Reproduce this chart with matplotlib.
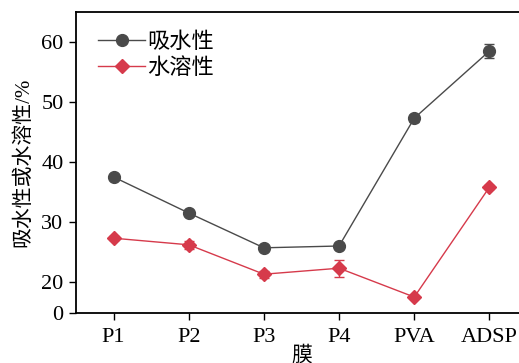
import numpy as np
import matplotlib
matplotlib.use("Agg")
import matplotlib.pyplot as plt
from matplotlib.lines import Line2D

plt.rcParams['font.family'] = ['Liberation Serif', 'Noto Sans CJK SC']
plt.rcParams['axes.unicode_minus'] = False

membranes = ["P1", "P2", "P3", "P4", "PVA", "ADSP"]
absorption = [37.5, 31.5, 25.7, 26.0, 47.3, 58.5]
absorption_err = [0.3, 0.3, 0.3, 0.3, 0.6, 1.2]
solubility = [27.3, 26.2, 21.3, 22.3, 10.3, 35.8]
solubility_err = [0.3, 0.7, 0.6, 1.4, 0.3, 0.3]

series_names = ["吸水性", "水溶性"]
y_ticks = [0, 20, 30, 40, 50, 60]

GRAY = "#4a4a4a"
RED = "#d63a4b"

# compressed segment below 20 (broken axis)
K = 0.2583


def forward(y):
    y = np.asarray(y, dtype=float)
    return np.where(y >= 20, y, 20 - (20 - y) * K)


def inverse(v):
    v = np.asarray(v, dtype=float)
    return np.where(v >= 20, v, 20 - (20 - v) / K)


fig = plt.figure(figsize=(5.19, 3.63), dpi=100)
ax = fig.add_axes([76 / 519, 50 / 363, 451 / 519, 301 / 363])
ax.set_yscale('function', functions=(forward, inverse))

x = np.arange(len(membranes))
styles = [
    dict(color=GRAY, marker='o', ms=8.5),
    dict(color=RED, marker='D', ms=7.5),
]
for vals, errs, st in zip([absorption, solubility],
                          [absorption_err, solubility_err], styles):
    ax.errorbar(x, vals, yerr=errs, color=st['color'], lw=1.0,
                marker=st['marker'], ms=st['ms'], mfc=st['color'],
                mec=st['color'], capsize=3.5, elinewidth=1.0,
                capthick=1.0, zorder=3)

handles = [Line2D([], [], color=st['color'], lw=1.0, marker=st['marker'],
                  ms=st['ms'], mfc=st['color'], mec=st['color'])
           for st in styles]

ax.set_xlim(-0.5, 5.5)
ax.set_ylim(0, 65)
ax.set_yticks(y_ticks)
ax.set_yticklabels([str(t) for t in y_ticks])
ax.yaxis.set_minor_locator(matplotlib.ticker.NullLocator())
ax.set_xticks(x)
ax.set_xticklabels(membranes)

for s in ['left', 'top', 'bottom']:
    ax.spines[s].set_linewidth(1.3)
ax.spines['right'].set_visible(False)

ax.tick_params(axis='both', direction='out', length=5, width=1.0,
               labelsize=16, pad=4)
ax.tick_params(axis='x', pad=6)

ax.set_ylabel("吸水性或水溶性/%", fontsize=15, labelpad=6)
ax.set_xlabel("膜", fontsize=15, labelpad=-1)

ax.legend(handles, series_names, loc='upper left',
          bbox_to_anchor=(0.0, 1.005), frameon=False,
          fontsize=16, handlelength=2.1, handletextpad=0.1,
          labelspacing=0.2, borderaxespad=0.6)

fig.savefig("out.png", dpi=100)
